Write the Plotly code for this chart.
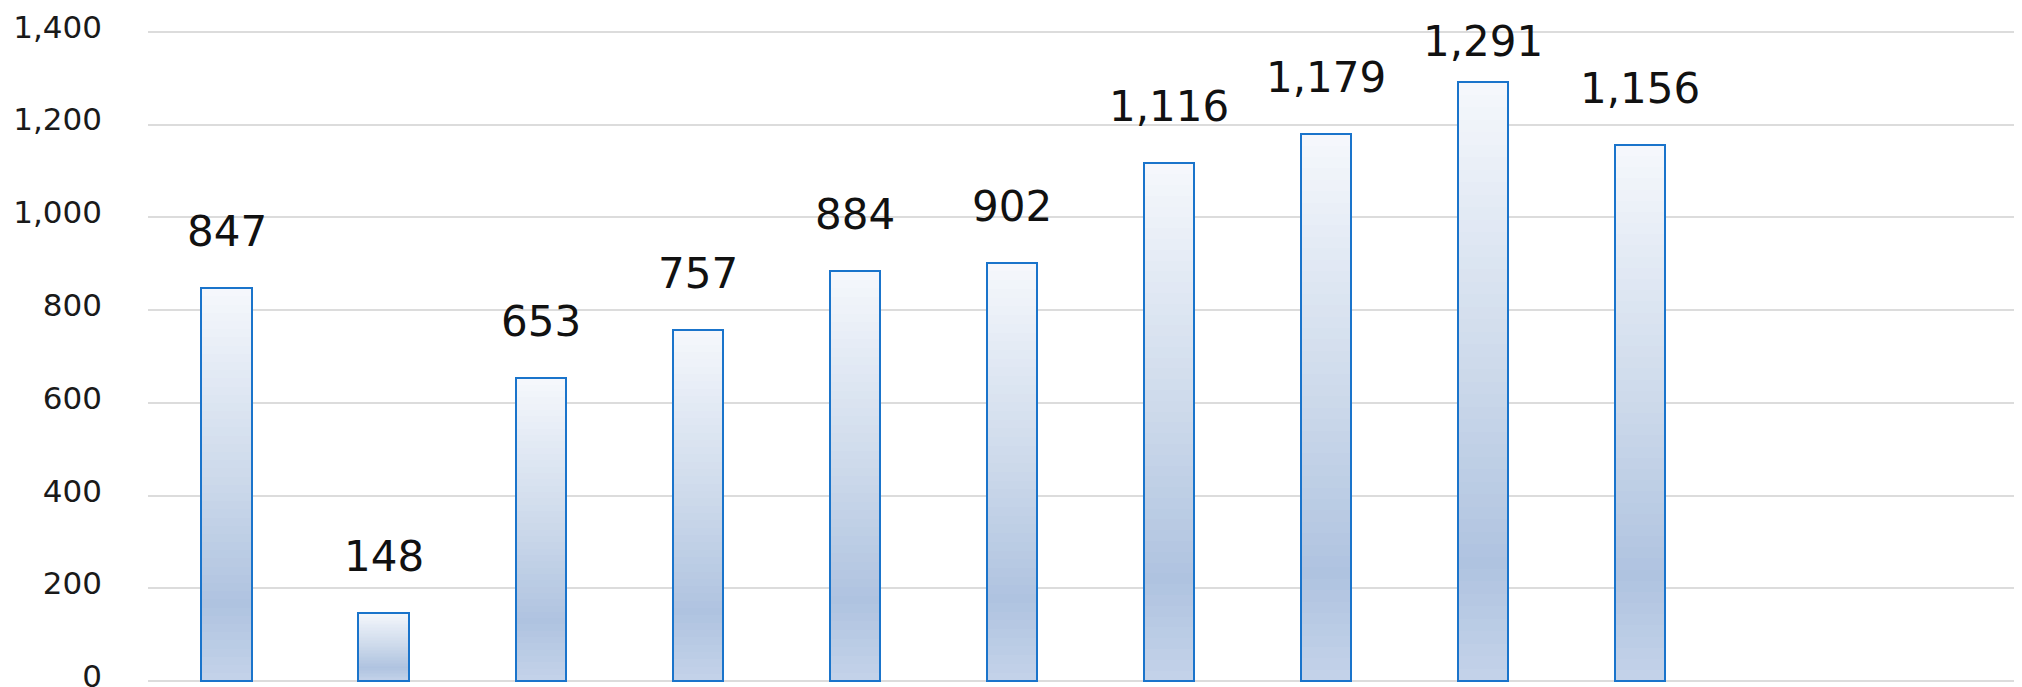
import plotly.graph_objects as go

# ---- data ----
categories = ["C1", "C2", "C3", "C4", "C5", "C6", "C7", "C8", "C9", "C10"]
values = [847, 148, 653, 757, 884, 902, 1116, 1179, 1291, 1156]
y_tick_vals = [0, 200, 400, 600, 800, 1000, 1200, 1400]
y_tick_text = ["0", "200", "400", "600", "800", "1,000", "1,200", "1,400"]

# ---- style ----
FONT = "DejaVu Sans"
OUTLINE = "#1A74CB"
# vertical gradient stops: (fraction of bar height from bottom, rgb)
grad_stops = [
    (0.00, (196, 211, 233)),
    (0.20, (175, 195, 224)),
    (0.50, (203, 216, 234)),
    (0.80, (228, 235, 245)),
    (1.00, (246, 248, 252)),
]
N_LAYERS = 48
BAR_W = 0.32


def grad_color(t):
    for (t0, c0), (t1, c1) in zip(grad_stops[:-1], grad_stops[1:]):
        if t0 <= t <= t1:
            a = (t - t0) / (t1 - t0) if t1 > t0 else 0
            c = [round(c0[i] + (c1[i] - c0[i]) * a) for i in range(3)]
            return f"rgb({c[0]},{c[1]},{c[2]})"
    c = grad_stops[-1][1]
    return f"rgb({c[0]},{c[1]},{c[2]})"


fig = go.Figure()

# gradient fill built from overlaid bars (tallest first, shorter ones on top)
for k in range(N_LAYERS):
    f_top = 1 - k / N_LAYERS
    f_mid = f_top - 0.5 / N_LAYERS
    fig.add_trace(go.Bar(
        x=categories,
        y=[v * f_top for v in values],
        width=BAR_W,
        marker=dict(color=grad_color(f_mid), line=dict(width=0)),
        hoverinfo="skip",
        showlegend=False,
    ))

# outline
fig.add_trace(go.Bar(
    x=categories,
    y=values,
    width=BAR_W,
    marker=dict(color="rgba(0,0,0,0)", line=dict(color=OUTLINE, width=2)),
    showlegend=False,
))

# value labels
for c, v in zip(categories, values):
    fig.add_annotation(
        x=c, y=v, xref="x", yref="y",
        text=f"{v:,}",
        showarrow=False,
        yanchor="bottom",
        yshift=30 if v < 1250 else 14,
        font=dict(family=FONT, size=42, color="#111111"),
    )

fig.update_layout(
    width=2014,
    height=679,
    barmode="overlay",
    bargap=0,
    plot_bgcolor="white",
    paper_bgcolor="white",
    margin=dict(l=140, r=0, t=20, b=2, autoexpand=False),
    showlegend=False,
    xaxis=dict(
        type="category",
        range=[-0.5, 11.43],
        showticklabels=False,
        showgrid=False,
        zeroline=False,
        showline=False,
        ticks="",
        automargin=False,
    ),
    yaxis=dict(
        range=[-8, 1408],
        tickvals=y_tick_vals,
        ticktext=y_tick_text,
        showgrid=True,
        gridcolor="#DCDCDC",
        gridwidth=2,
        zeroline=False,
        showline=False,
        ticks="",
        ticklabelstandoff=45,
        ticklabelshift=-5,
        ticklabeloverflow="allow",
        automargin=False,
        tickfont=dict(family=FONT, size=31, color="#1A1A1A"),
    ),
)

fig.write_html("out.html")
